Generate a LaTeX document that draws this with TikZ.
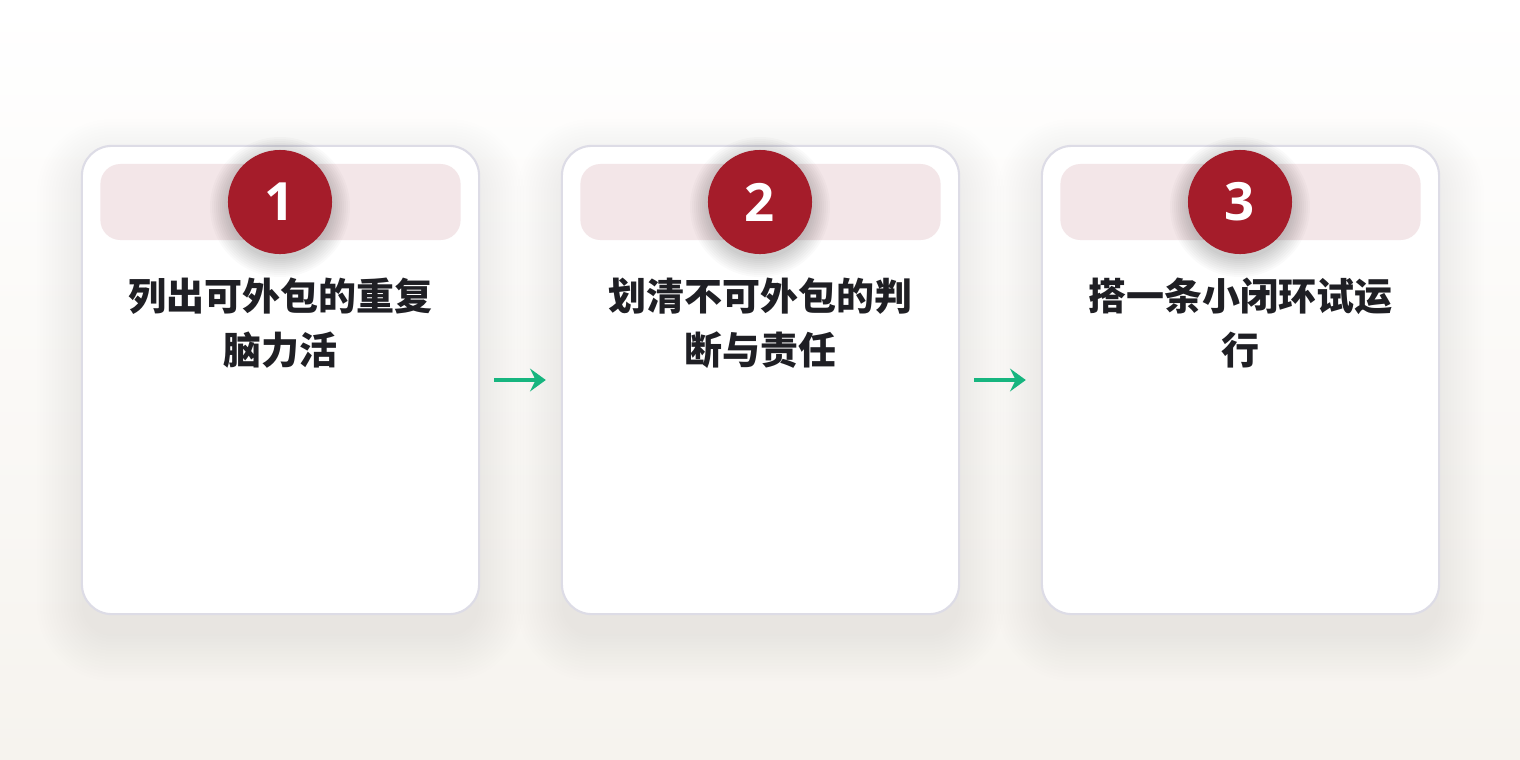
\documentclass[tikz,border=0pt]{standalone}
\usepackage{fontspec}
\setmainfont{Noto Sans CJK SC}
\newfontfamily\cjk{Noto Sans CJK SC}
\newfontfamily\digits{Open Sans}
\usetikzlibrary{arrows.meta}
\definecolor{stepred}{HTML}{A51C2A}
\definecolor{bandpink}{HTML}{F3E6E8}
\definecolor{cardedge}{HTML}{DDDCE6}
\definecolor{inkdark}{HTML}{1F1F24}
\definecolor{flowgreen}{HTML}{17B57F}
\definecolor{paperlow}{HTML}{F6F3EE}
\begin{document}
\begin{tikzpicture}
		[x=0.01cm,y=-0.01cm,
			shadowDecorate/.style={fill=black,opacity=0.0055},
			cardDecorate/.style={rectangle,rounded corners=0.3cm,draw=cardedge,line width=0.6pt,fill=white,
				minimum width=3.97cm,minimum height=4.68cm},
			bandDecorate/.style={rectangle,rounded corners=0.2cm,fill=bandpink,minimum width=3.6cm,minimum height=0.76cm},
			badgeDecorate/.style={shape=circle,fill=stepred,minimum size=1.04cm,inner sep=0pt,text=white,
				font=\digits\bfseries\fontsize{15pt}{15pt}\selectfont},
			titleDecorate/.style={align=center,text=inkdark,font=\cjk\bfseries\fontsize{10.8pt}{15.4pt}\selectfont},
			lineDecorate/.style={-{Stealth[length=4.5pt,width=6.5pt,inset=1.6pt]},draw=flowgreen,line width=1.1pt}]
		\shade [top color=white,bottom color=paperlow] (0,0) rectangle (1520,760);
		\useasboundingbox (0,0) rectangle (1520,760);
		% soft shadows under the cards
		\foreach \x in {280.5,760.5,1240.5}
			\foreach \k in {0,...,15}
				{
					\fill [shadowDecorate,rounded corners=0.3cm+\k*0.03cm]
						(\x-198.5-\k*3,164-\k*3) rectangle (\x+198.5+\k*3,636+\k*3);
				}
		\foreach \nodename/\x/\label/\title in {
				1/280.5/1/{列出可外包的重复\\脑力活},
				2/760.5/2/{划清不可外包的判\\断与责任},
				3/1240.5/3/{搭一条小闭环试运\\行}}
			{
				\node (card\nodename) at (\x,380) [cardDecorate] {};
				\node (band\nodename) at (\x,202) [bandDecorate] {};
				\foreach \k in {0,...,9}
					\fill [black,opacity=0.018] (\x-0.5,207) circle (52+\k*2);
				\node (badge\nodename) at (\x-0.5,202) [badgeDecorate] {\label};
				\node (title\nodename) at (\x,323) [titleDecorate] {\title};
			}
		\path
		\foreach \startnode/\endnode in {card1/card2, card2/card3}
			{
				(\startnode) edge[lineDecorate,shorten <=0.14cm,shorten >=0.15cm] (\endnode)
			};
	\end{tikzpicture}
\end{document}
